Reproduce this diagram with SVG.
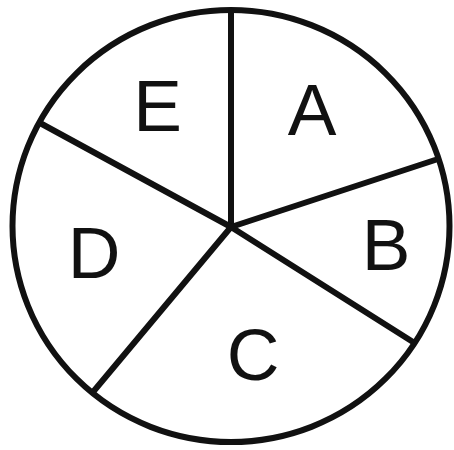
<svg xmlns="http://www.w3.org/2000/svg" width="454" height="450" viewBox="0 0 454 450">
<style>
.l{stroke:#111;stroke-width:6;fill:none;stroke-linecap:round}
.t{font-family:"Liberation Sans",Arial,sans-serif;font-size:73px;fill:#111;text-anchor:middle}
</style>
<rect width="454" height="450" fill="#fff"/>
<g id="circle"><ellipse class="l" cx="231" cy="226" rx="218.5" ry="216"/></g>
<g id="connectors">
<line class="l" x1="231" y1="227" x2="231" y2="11"/>
<line class="l" x1="231" y1="227" x2="435" y2="160"/>
<line class="l" x1="231" y1="227" x2="413" y2="342"/>
<line class="l" x1="231" y1="227" x2="93" y2="392"/>
<line class="l" x1="231" y1="227" x2="40" y2="123"/>
</g>
<g id="A"><text class="t" x="312" y="135">A</text></g>
<g id="B"><text class="t" x="386" y="270">B</text></g>
<g id="C"><text class="t" x="253" y="380">C</text></g>
<g id="D"><text class="t" x="94" y="278">D</text></g>
<g id="E"><text class="t" x="157.5" y="131">E</text></g>
</svg>
